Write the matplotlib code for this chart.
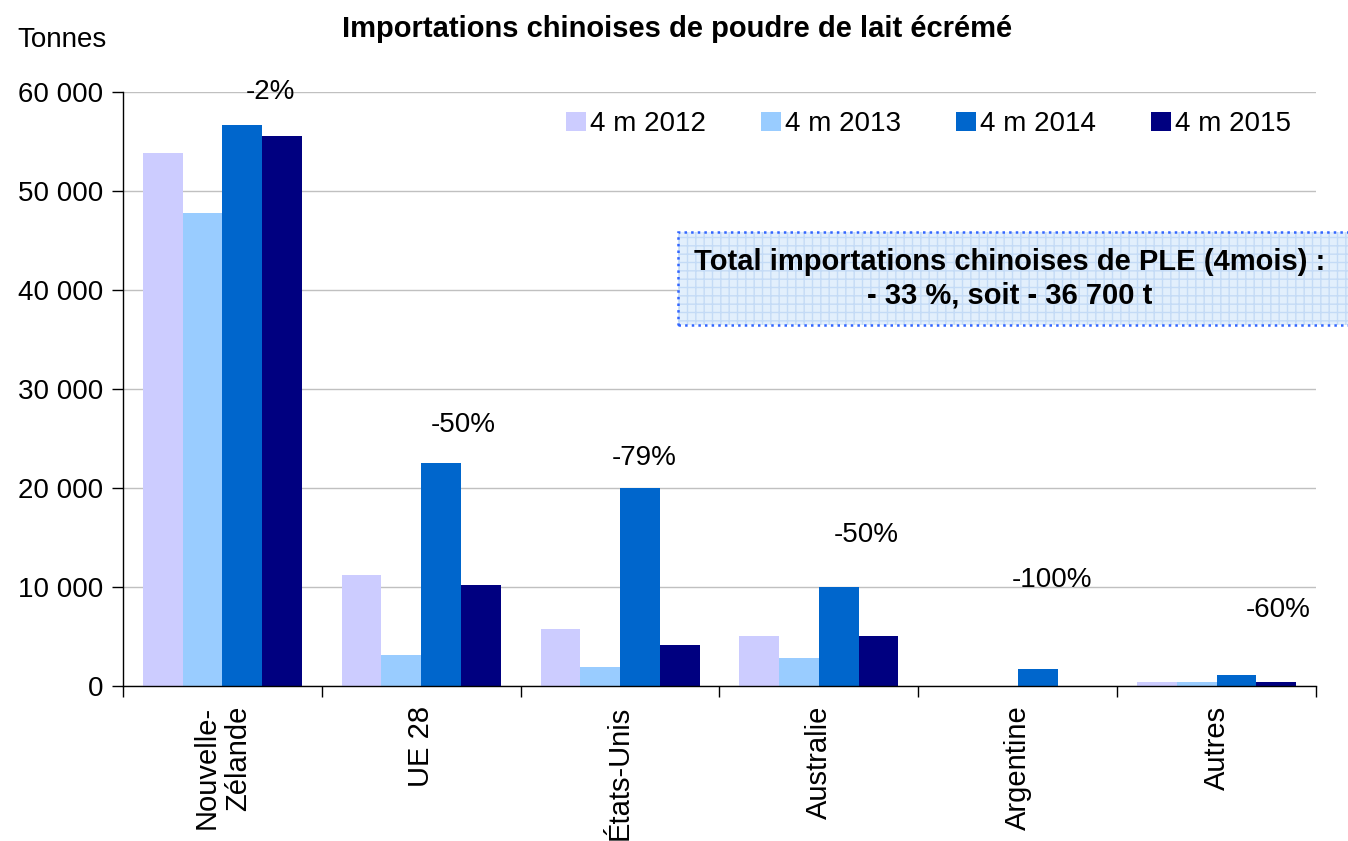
import numpy as np
import matplotlib
matplotlib.use("Agg")
import matplotlib.pyplot as plt
from matplotlib.ticker import FuncFormatter, FixedLocator
from matplotlib.patches import Rectangle

plt.rcParams['font.family'] = ['Liberation Sans', 'DejaVu Sans']

# donnees (tonnes)
pays = ["Nouvelle-\nZélande", "UE 28", "États-Unis", "Australie", "Argentine", "Autres"]
periodes = ["4 m 2012", "4 m 2013", "4 m 2014", "4 m 2015"]
v2012 = [53800, 11250, 5760, 5030, 0, 370]
v2013 = [47800, 3090, 1920, 2800, 0, 370]
v2014 = [56650, 22570, 20000, 10000, 1690, 1080]
v2015 = [55530, 10200, 4140, 5030, 0, 430]
variation = ["-2%", "-50%", "-79%", "-50%", "-100%", "-60%"]

couleurs = ["#CCCCFF", "#99CCFF", "#0066CC", "#000080"]
# position des etiquettes de variation (decalage horizontal, hauteur)
lab_dx = [0.24, 0.21, 0.12, 0.24, 0.17, 0.31]
lab_y = [60000, 26400, 23000, 15300, 10700, 7700]

fig = plt.figure(figsize=(13.48, 8.41), dpi=100)
ax = fig.add_axes([0.0912, 0.1843, 0.8851, 0.7063])

x = np.arange(len(pays))
w = 0.2
for i, (serie, nom) in enumerate(zip([v2012, v2013, v2014, v2015], periodes)):
    ax.bar(x + (i - 1.5) * w, serie, width=w, color=couleurs[i], label=nom, zorder=2)

for i, txt in enumerate(variation):
    ax.text(x[i] + lab_dx[i], lab_y[i], txt, ha='center', va='center', fontsize=20)

ax.set_xlim(-0.5, len(pays) - 0.5)
ax.set_ylim(0, 60000)
ax.set_yticks(np.arange(0, 60001, 10000))
ax.yaxis.set_major_formatter(FuncFormatter(lambda v, p: f"{int(v):,}".replace(",", " ")))
ax.grid(axis='y', color='#c0c0c0', linewidth=1, zorder=0)
ax.tick_params(axis='y', direction='out', length=8, width=1, labelsize=20, pad=6)

ax.set_xticks(x)
ax.set_xticklabels(pays, rotation=90, fontsize=21, ha='center', va='top',
                   multialignment='right')
ax.tick_params(axis='x', which='major', length=0, pad=14)
ax.xaxis.set_minor_locator(FixedLocator(np.arange(-0.5, len(pays), 1.0)))
ax.tick_params(axis='x', which='minor', direction='out', length=8, width=1)

for s in ['top', 'right']:
    ax.spines[s].set_visible(False)
for s in ['left', 'bottom']:
    ax.spines[s].set_color('black')
    ax.spines[s].set_linewidth(1)

ax.legend(loc='upper right', bbox_to_anchor=(1.0, 1.01), ncol=4, frameon=False,
          fontsize=20, handlelength=0.7, handleheight=0.7, handletextpad=0.15,
          columnspacing=2.0)

fig.text(0.502, 0.966, "Importations chinoises de poudre de lait écrémé",
         ha='center', va='center', fontsize=21, fontweight='bold')
fig.text(0.013, 0.952, "Tonnes", ha='left', va='center', fontsize=20)

# encadre du total
fond = Rectangle((0.503, 0.614), 0.5, 0.11, transform=fig.transFigure,
                 facecolor='#E2EFFC', edgecolor='#C4DBF6', linewidth=0,
                 hatch='++', zorder=3)
fig.patches.append(fond)
cadre = Rectangle((0.503, 0.614), 0.5, 0.11, transform=fig.transFigure,
                  facecolor='none', edgecolor='#3366FF', linestyle=':',
                  linewidth=1.8, zorder=3)
fig.patches.append(cadre)
fig.text(0.749, 0.669, "Total importations chinoises de PLE (4mois) :\n- 33 %, soit - 36 700 t",
         ha='center', va='center', fontsize=21, fontweight='bold', linespacing=1.25, zorder=4)

fig.savefig("out.png", dpi=100)
